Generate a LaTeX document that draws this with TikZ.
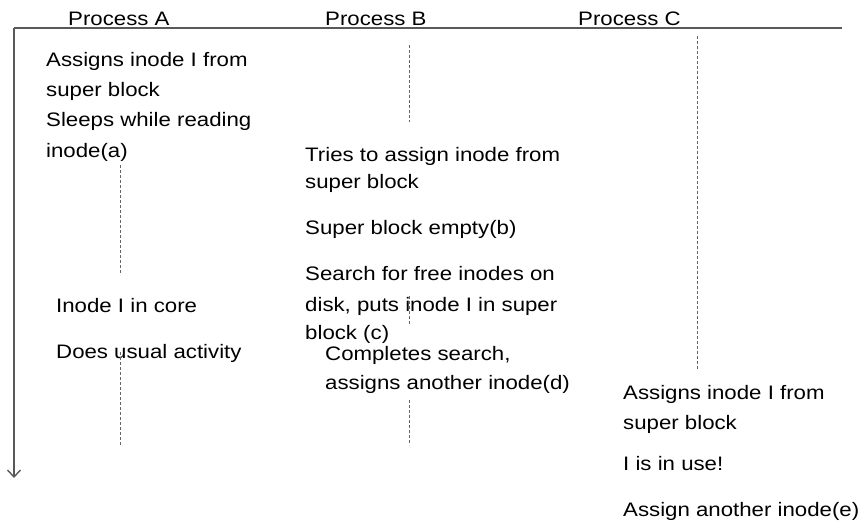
\documentclass[tikz,border=0pt]{standalone}
\usepackage{fontspec}
\setmainfont{Liberation Sans}[FakeStretch=1.14]
\usetikzlibrary{arrows.meta}
\begin{document}
\begin{tikzpicture}[x=1pt,y=-1pt,
  txt/.style={anchor=base west,inner sep=0pt,font=\fontsize{19.5}{23}\selectfont},
  axis/.style={draw=black!65,line width=1.4pt},
  lifeline/.style={draw=black!60,line width=1pt,dash pattern=on 3pt off 2pt}]
\useasboundingbox (0,0) rectangle (858,523);

% time axis and header line
\coordinate (tl) at (14,28);
\coordinate (tr) at (842,28);
\coordinate (tb) at (14,478);
\draw[axis] (tl) -- (tr);
\draw[axis,-{Straight Barb[length=7pt,width=13pt]}] (tl) -- (tb);

% column headers
\node[txt] (hA) at (68,25) {Process A};
\node[txt] (hB) at (325,25) {Process B};
\node[txt] (hC) at (578,25) {Process C};

% process A
\node[txt] (a1) at (46,66) {Assigns inode I from};
\node[txt] (a2) at (46,96) {super block};
\node[txt] (a3) at (46,126) {Sleeps while reading};
\node[txt] (a4) at (46,157) {inode(a)};
\node[txt] (a5) at (56,312) {Inode I in core};
\node[txt] (a6) at (56,358) {Does usual activity};

% process B
\node[txt] (b1) at (305,161) {Tries to assign inode from};
\node[txt] (b2) at (305,188) {super block};
\node[txt] (b3) at (305,234) {Super block empty(b)};
\node[txt] (b4) at (305,280) {Search for free inodes on};
\node[txt] (b5) at (305,311) {disk, puts inode I in super};
\node[txt] (b6) at (305,339) {block (c)};
\node[txt] (b7) at (325,360) {Completes search,};
\node[txt] (b8) at (325,389) {assigns another inode(d)};

% process C
\node[txt] (c1) at (623,399) {Assigns inode I from};
\node[txt] (c2) at (623,429) {super block};
\node[txt] (c3) at (623,470) {I is in use!};
\node[txt] (c4) at (623,516) {Assign another inode(e)};

% dashed lifelines
\coordinate (la1s) at (120,165); \coordinate (la1e) at (120,275);
\coordinate (la2s) at (120,352); \coordinate (la2e) at (120,446);
\coordinate (lb1s) at (409,45);  \coordinate (lb1e) at (409,122);
\coordinate (lb2s) at (409,296); \coordinate (lb2e) at (409,325);
\coordinate (lb3s) at (409,400); \coordinate (lb3e) at (409,445);
\coordinate (lcs) at (697,36);   \coordinate (lce) at (697,370);
\draw[lifeline] (la1s) -- (la1e);
\draw[lifeline] (la2s) -- (la2e);
\draw[lifeline] (lb1s) -- (lb1e);
\draw[lifeline] (lb2s) -- (lb2e);
\draw[lifeline] (lb3s) -- (lb3e);
\draw[lifeline] (lcs) -- (lce);
\end{tikzpicture}
\end{document}
